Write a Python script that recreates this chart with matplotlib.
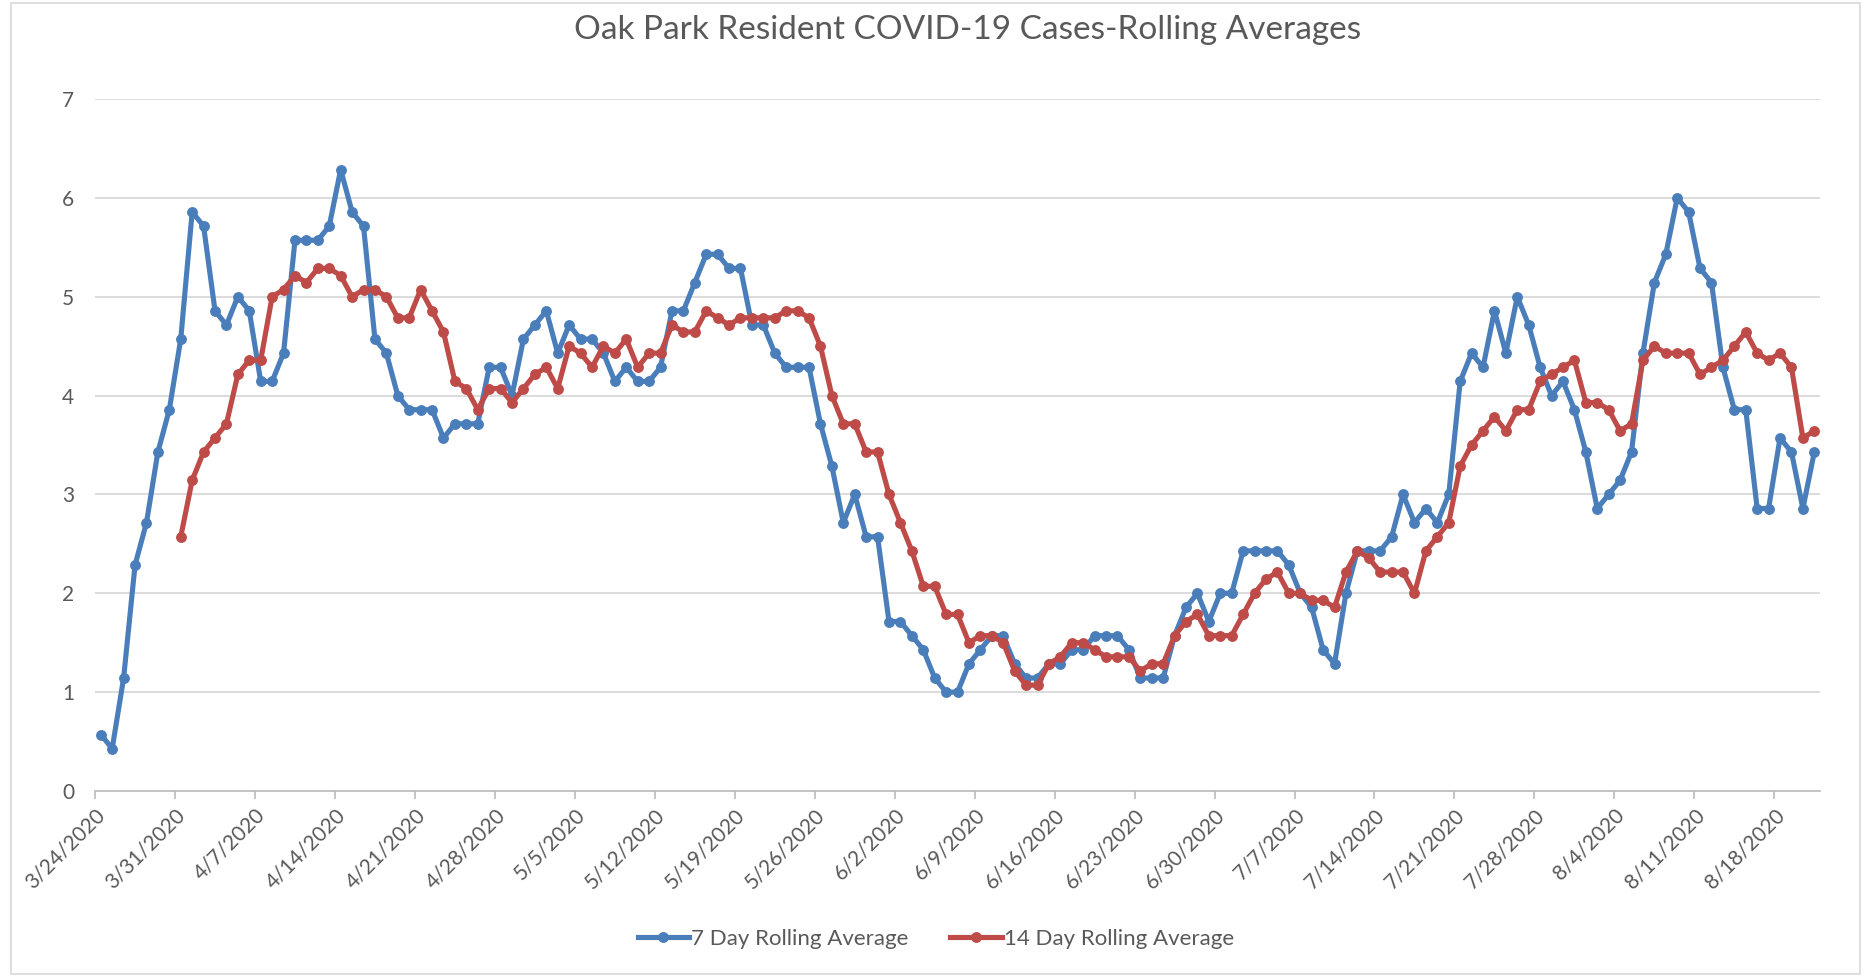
import numpy as np
import pandas as pd
import matplotlib
matplotlib.use("Agg")
import matplotlib.pyplot as plt
import matplotlib.dates as mdates
from matplotlib.patches import Rectangle

# daily values, first point is 3/24/2020
start_date = "2020-03-24"
red_start = 7  # 14 day average only starts on 3/31

seven_day = [
    0.571, 0.429, 1.143, 2.286, 2.714, 3.429, 3.857, 4.571, 5.857, 5.714,
    4.857, 4.714, 5.0, 4.857, 4.143, 4.143, 4.429, 5.571, 5.571, 5.571,
    5.714, 6.286, 5.857, 5.714, 4.571, 4.429, 4.0, 3.857, 3.857, 3.857,
    3.571, 3.714, 3.714, 3.714, 4.286, 4.286, 4.0, 4.571, 4.714, 4.857,
    4.429, 4.714, 4.571, 4.571, 4.429, 4.143, 4.286, 4.143, 4.143, 4.286,
    4.857, 4.857, 5.143, 5.429, 5.429, 5.286, 5.286, 4.714, 4.714, 4.429,
    4.286, 4.286, 4.286, 3.714, 3.286, 2.714, 3.0, 2.571, 2.571, 1.714,
    1.714, 1.571, 1.429, 1.143, 1.0, 1.0, 1.286, 1.429, 1.571, 1.571,
    1.286, 1.143, 1.143, 1.286, 1.286, 1.429, 1.429, 1.571, 1.571, 1.571,
    1.429, 1.143, 1.143, 1.143, 1.571, 1.857, 2.0, 1.714, 2.0, 2.0,
    2.429, 2.429, 2.429, 2.429, 2.286, 2.0, 1.857, 1.429, 1.286, 2.0,
    2.429, 2.429, 2.429, 2.571, 3.0, 2.714, 2.857, 2.714, 3.0, 4.143,
    4.429, 4.286, 4.857, 4.429, 5.0, 4.714, 4.286, 4.0, 4.143, 3.857,
    3.429, 2.857, 3.0, 3.143, 3.429, 4.429, 5.143, 5.429, 6.0, 5.857,
    5.286, 5.143, 4.286, 3.857, 3.857, 2.857, 2.857, 3.571, 3.429, 2.857,
    3.429,
]

fourteen_day = [
    2.571, 3.143, 3.429, 3.571, 3.714, 4.214, 4.357, 4.357, 5.0, 5.071,
    5.214, 5.143, 5.286, 5.286, 5.214, 5.0, 5.071, 5.071, 5.0, 4.786,
    4.786, 5.071, 4.857, 4.643, 4.143, 4.071, 3.857, 4.071, 4.071, 3.929,
    4.071, 4.214, 4.286, 4.071, 4.5, 4.429, 4.286, 4.5, 4.429, 4.571,
    4.286, 4.429, 4.429, 4.714, 4.643, 4.643, 4.857, 4.786, 4.714, 4.786,
    4.786, 4.786, 4.786, 4.857, 4.857, 4.786, 4.5, 4.0, 3.714, 3.714,
    3.429, 3.429, 3.0, 2.714, 2.429, 2.071, 2.071, 1.786, 1.786, 1.5,
    1.571, 1.571, 1.5, 1.214, 1.071, 1.071, 1.286, 1.357, 1.5, 1.5,
    1.429, 1.357, 1.357, 1.357, 1.214, 1.286, 1.286, 1.571, 1.714, 1.786,
    1.571, 1.571, 1.571, 1.786, 2.0, 2.143, 2.214, 2.0, 2.0, 1.929,
    1.929, 1.857, 2.214, 2.429, 2.357, 2.214, 2.214, 2.214, 2.0, 2.429,
    2.571, 2.714, 3.286, 3.5, 3.643, 3.786, 3.643, 3.857, 3.857, 4.143,
    4.214, 4.286, 4.357, 3.929, 3.929, 3.857, 3.643, 3.714, 4.357, 4.5,
    4.429, 4.429, 4.429, 4.214, 4.286, 4.357, 4.5, 4.643, 4.429, 4.357,
    4.429, 4.286, 3.571, 3.643,
]

title = "Oak Park Resident COVID-19 Cases-Rolling Averages"
labels = ["7 Day Rolling Average", "14 Day Rolling Average"]
colors = ["#4A7EBB", "#BE4B48"]
y_ticks = [0, 1, 2, 3, 4, 5, 6, 7]

dates = pd.date_range(start_date, periods=len(seven_day), freq="D")
# excel date axis puts each day's point in the middle of its slot
x_blue = mdates.date2num(dates) + 0.5
x_red = x_blue[red_start:red_start + len(fourteen_day)]
tick_dates = pd.date_range(start_date, dates[-1], freq="7D")
tick_labels = [f"{d.month}/{d.day}/{d.year}" for d in tick_dates]

plt.rcParams["font.family"] = ["Lato", "DejaVu Sans"]
text_grey = "#595959"

fig = plt.figure(figsize=(18.64, 9.77), dpi=100)
ax = fig.add_axes([0.051, 0.1904, 0.9254, 0.7083])

ax.plot(x_blue, seven_day, color=colors[0], lw=3.7, marker="o", ms=6.8,
        label=labels[0], zorder=3)
ax.plot(x_red, fourteen_day, color=colors[1], lw=3.7, marker="o", ms=6.8,
        label=labels[1], zorder=4)

ax.set_ylim(0, 7)
ax.set_yticks(y_ticks)
ax.set_xlim(mdates.date2num(dates[0]), mdates.date2num(dates[-1]) + 1)
ax.set_xticks(mdates.date2num(tick_dates))
ax.set_xticklabels(tick_labels, rotation=45, ha="right", va="top",
                   rotation_mode="anchor")

ax.grid(axis="y", color="#D9D9D9", lw=1.3)
ax.set_axisbelow(True)
for side in ["left", "right", "top"]:
    ax.spines[side].set_visible(False)
ax.spines["bottom"].set_color("#BFBFBF")
ax.spines["bottom"].set_linewidth(1.3)
ax.tick_params(axis="y", length=0, pad=15, labelsize=15, labelcolor=text_grey)
ax.tick_params(axis="x", length=6, width=1.3, color="#BFBFBF", pad=4,
               labelsize=15, labelcolor=text_grey)

fig.suptitle(title, x=0.519, y=0.969, va="center", fontsize=24, color=text_grey)

fig.legend(loc="center", bbox_to_anchor=(0.502, 0.039), ncol=2, frameon=False,
           fontsize=16, labelcolor=text_grey, handlelength=2.3,
           columnspacing=1.9, handletextpad=0.1)

# chart area border
fig.patches.append(Rectangle((0.006, 0.003), 0.992, 0.994, transform=fig.transFigure,
                             fill=False, edgecolor="#D9D9D9", lw=1.2))

fig.savefig("out.png", dpi=100, facecolor="white")
